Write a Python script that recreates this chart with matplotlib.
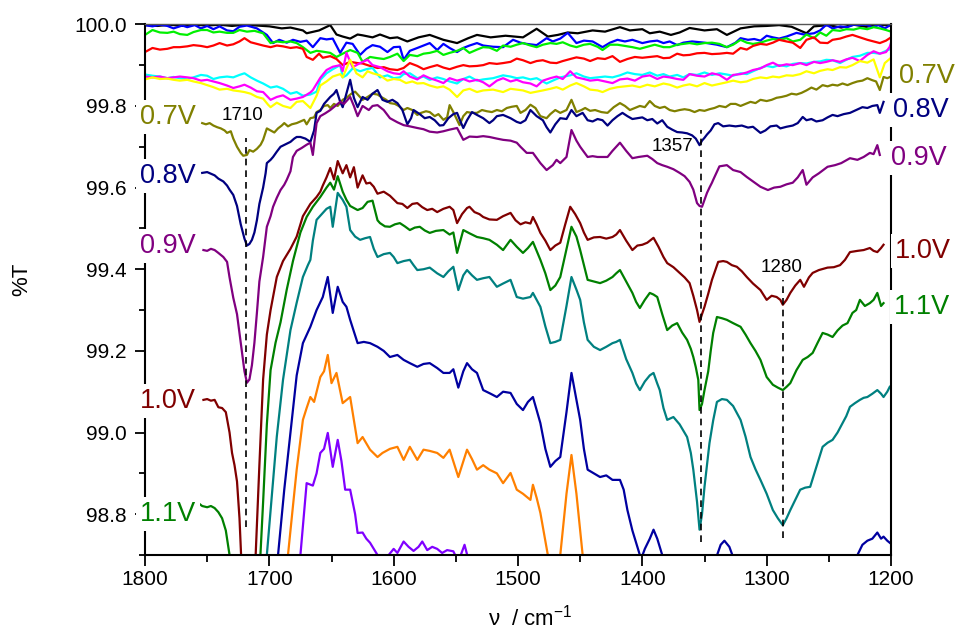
import matplotlib
matplotlib.use("Agg")
import matplotlib.pyplot as plt
from matplotlib.ticker import MultipleLocator, FormatStrFormatter

plt.rcParams['font.family'] = ['Liberation Sans', 'DejaVu Sans']
plt.rcParams['mathtext.default'] = 'regular'

# ---- spectra: (wavenumber / cm-1, %T) ----
trace_black = [(1800, 99.998), (1790, 99.996), (1780, 99.999), (1770, 99.996), (1760, 99.999), (1750, 99.997),
               (1740, 99.999), (1730, 99.996), (1720, 99.999), (1710, 99.997), (1700, 99.995), (1690, 99.99),
               (1683, 99.992), (1673, 99.985), (1670, 99.978), (1660, 99.985), (1651, 99.998), (1646, 99.975),
               (1641, 99.97), (1635, 99.965), (1629, 99.975), (1625, 99.973), (1617, 99.968), (1611, 99.975),
               (1603, 99.966), (1597, 99.968), (1589, 99.958), (1580, 99.968), (1571, 99.974), (1560, 99.962),
               (1549, 99.954), (1540, 99.966), (1533, 99.974), (1522, 99.968), (1510, 99.972), (1496, 99.968),
               (1485, 99.989), (1476, 99.97), (1468, 99.974), (1460, 99.98), (1452, 99.978), (1440, 99.985),
               (1430, 99.982), (1418, 99.993), (1410, 99.985), (1400, 99.988), (1394, 99.978), (1386, 99.982),
               (1377, 99.974), (1370, 99.98), (1362, 99.991), (1350, 99.985), (1340, 99.988), (1332, 99.974),
               (1321, 99.99), (1310, 99.995), (1300, 99.996), (1290, 99.998), (1280, 99.994), (1268, 99.978),
               (1262, 99.995), (1250, 99.998), (1240, 99.992), (1230, 99.999), (1220, 99.994), (1210, 99.999),
               (1200, 99.997)]

trace_blue = [(1800, 99.998), (1794, 99.995), (1788, 99.999), (1782, 99.996), (1777, 99.990), (1770, 99.997),
              (1766, 99.993), (1760, 99.998), (1755, 99.99), (1750, 99.996), (1745, 99.988), (1740, 99.995),
              (1734, 99.985), (1729, 99.983), (1724, 99.994), (1718, 99.997), (1710, 99.99), (1702, 99.974),
              (1697, 99.954), (1692, 99.962), (1686, 99.955), (1681, 99.962), (1675, 99.957), (1670, 99.96),
              (1665, 99.944), (1659, 99.966), (1654, 99.963), (1649, 99.965), (1643, 99.93), (1638, 99.955),
              (1633, 99.952), (1627, 99.925), (1622, 99.94), (1617, 99.949), (1611, 99.945), (1605, 99.932),
              (1600, 99.944), (1595, 99.945), (1592, 99.913), (1587, 99.935), (1581, 99.942), (1576, 99.948),
              (1571, 99.954), (1565, 99.937), (1560, 99.952), (1555, 99.942), (1549, 99.932), (1544, 99.942),
              (1539, 99.948), (1533, 99.954), (1528, 99.948), (1520, 99.945), (1512, 99.944), (1504, 99.962),
              (1498, 99.955), (1493, 99.952), (1485, 99.949), (1477, 99.966), (1472, 99.958), (1466, 99.965),
              (1460, 99.979), (1453, 99.954), (1447, 99.96), (1440, 99.958), (1432, 99.944), (1426, 99.955),
              (1420, 99.962), (1414, 99.958), (1408, 99.962), (1400, 99.954), (1394, 99.958), (1388, 99.96),
              (1383, 99.954), (1378, 99.958), (1372, 99.949), (1367, 99.955), (1360, 99.958), (1350, 99.955),
              (1340, 99.95), (1332, 99.944), (1325, 99.955), (1321, 99.966), (1315, 99.962), (1310, 99.964),
              (1305, 99.96), (1300, 99.972), (1295, 99.968), (1290, 99.965), (1284, 99.97), (1276, 99.979),
              (1270, 99.975), (1262, 99.978), (1257, 99.985), (1252, 99.999), (1247, 99.99), (1241, 99.995),
              (1235, 99.993), (1230, 99.999), (1225, 99.998), (1220, 99.999), (1215, 99.993), (1210, 99.998),
              (1205, 99.99), (1200, 99.999)]

trace_lime = [(1800, 99.974), (1794, 99.986), (1788, 99.98), (1782, 99.979), (1777, 99.982), (1772, 99.976),
              (1766, 99.974), (1761, 99.981), (1755, 99.986), (1750, 99.986), (1745, 99.98), (1740, 99.982),
              (1734, 99.979), (1729, 99.979), (1724, 99.986), (1718, 99.982), (1712, 99.984), (1705, 99.978),
              (1699, 99.954), (1694, 99.958), (1689, 99.956), (1683, 99.958), (1678, 99.954), (1673, 99.944),
              (1667, 99.93), (1662, 99.935), (1657, 99.933), (1651, 99.93), (1646, 99.92), (1641, 99.928),
              (1635, 99.937), (1629, 99.93), (1625, 99.908), (1619, 99.92), (1613, 99.917), (1608, 99.915),
              (1603, 99.92), (1597, 99.928), (1592, 99.91), (1587, 99.925), (1581, 99.922), (1576, 99.928),
              (1571, 99.93), (1565, 99.935), (1560, 99.925), (1555, 99.93), (1549, 99.935), (1544, 99.942),
              (1539, 99.93), (1533, 99.938), (1528, 99.944), (1523, 99.943), (1517, 99.935), (1512, 99.948),
              (1506, 99.945), (1501, 99.95), (1496, 99.954), (1490, 99.948), (1485, 99.944), (1480, 99.95),
              (1474, 99.954), (1469, 99.952), (1464, 99.956), (1458, 99.948), (1453, 99.944), (1447, 99.95),
              (1442, 99.952), (1436, 99.945), (1432, 99.937), (1426, 99.95), (1420, 99.95), (1414, 99.947),
              (1408, 99.944), (1402, 99.94), (1396, 99.945), (1390, 99.95), (1383, 99.944), (1378, 99.944),
              (1372, 99.95), (1367, 99.952), (1362, 99.954), (1356, 99.951), (1350, 99.954), (1344, 99.955),
              (1338, 99.952), (1332, 99.944), (1327, 99.95), (1321, 99.962), (1316, 99.955), (1311, 99.952),
              (1305, 99.955), (1300, 99.96), (1295, 99.964), (1290, 99.962), (1284, 99.966), (1279, 99.958),
              (1273, 99.962), (1268, 99.975), (1262, 99.966), (1257, 99.98), (1252, 99.972), (1247, 99.986),
              (1241, 99.984), (1236, 99.988), (1230, 99.987), (1225, 99.991), (1219, 99.988), (1214, 99.993),
              (1209, 99.99), (1204, 99.986), (1200, 99.982)]

trace_red = [(1800, 99.932), (1794, 99.942), (1788, 99.938), (1782, 99.94), (1777, 99.944), (1772, 99.944),
             (1766, 99.946), (1761, 99.949), (1755, 99.947), (1750, 99.944), (1745, 99.948), (1740, 99.954),
             (1734, 99.948), (1729, 99.951), (1724, 99.958), (1720, 99.966), (1715, 99.956), (1710, 99.952),
             (1705, 99.948), (1699, 99.944), (1694, 99.948), (1689, 99.946), (1683, 99.942), (1678, 99.944),
             (1673, 99.94), (1670, 99.92), (1665, 99.913), (1660, 99.928), (1657, 99.918), (1651, 99.922),
             (1646, 99.915), (1641, 99.9), (1635, 99.908), (1629, 99.905), (1625, 99.904), (1619, 99.898),
             (1613, 99.893), (1608, 99.895), (1603, 99.89), (1597, 99.888), (1592, 99.893), (1587, 99.905),
             (1581, 99.898), (1576, 99.89), (1571, 99.895), (1565, 99.9), (1560, 99.894), (1555, 99.89),
             (1549, 99.896), (1544, 99.9), (1539, 99.897), (1533, 99.898), (1528, 99.9), (1523, 99.905),
             (1517, 99.903), (1512, 99.905), (1506, 99.908), (1501, 99.916), (1496, 99.912), (1490, 99.905),
             (1485, 99.91), (1480, 99.912), (1474, 99.906), (1469, 99.905), (1464, 99.91), (1458, 99.915),
             (1453, 99.919), (1447, 99.916), (1442, 99.91), (1436, 99.917), (1430, 99.915), (1424, 99.922),
             (1418, 99.908), (1412, 99.915), (1406, 99.92), (1400, 99.918), (1394, 99.92), (1388, 99.922),
             (1383, 99.917), (1378, 99.918), (1372, 99.928), (1367, 99.924), (1362, 99.925), (1356, 99.929),
             (1350, 99.93), (1344, 99.927), (1338, 99.928), (1332, 99.93), (1327, 99.928), (1321, 99.942),
             (1316, 99.938), (1311, 99.947), (1305, 99.952), (1300, 99.95), (1295, 99.955), (1290, 99.962),
             (1284, 99.958), (1279, 99.955), (1273, 99.942), (1268, 99.962), (1262, 99.968), (1257, 99.955),
             (1251, 99.954), (1247, 99.962), (1241, 99.965), (1236, 99.97), (1231, 99.974), (1225, 99.968),
             (1219, 99.962), (1214, 99.958), (1209, 99.954), (1204, 99.96), (1200, 99.968)]

trace_cyan = [(1800, 99.877), (1794, 99.874), (1788, 99.872), (1782, 99.868), (1777, 99.871), (1772, 99.868),
              (1766, 99.866), (1761, 99.87), (1755, 99.876), (1750, 99.874), (1745, 99.866), (1740, 99.87),
              (1734, 99.872), (1729, 99.87), (1724, 99.876), (1720, 99.88), (1715, 99.87), (1710, 99.862),
              (1705, 99.855), (1699, 99.845), (1694, 99.848), (1689, 99.842), (1683, 99.83), (1678, 99.834),
              (1673, 99.825), (1667, 99.828), (1662, 99.835), (1659, 99.864), (1654, 99.88), (1649, 99.89),
              (1643, 99.9), (1641, 99.87), (1638, 99.875), (1633, 99.892), (1627, 99.885), (1622, 99.89),
              (1617, 99.893), (1611, 99.87), (1605, 99.875), (1600, 99.868), (1595, 99.87), (1592, 99.878),
              (1587, 99.88), (1581, 99.868), (1576, 99.872), (1571, 99.864), (1565, 99.87), (1560, 99.866),
              (1555, 99.86), (1549, 99.855), (1544, 99.866), (1539, 99.872), (1533, 99.862), (1528, 99.865),
              (1520, 99.868), (1512, 99.875), (1506, 99.872), (1501, 99.868), (1496, 99.87), (1490, 99.865),
              (1485, 99.868), (1477, 99.855), (1472, 99.862), (1466, 99.87), (1458, 99.875), (1453, 99.88),
              (1447, 99.872), (1442, 99.868), (1436, 99.87), (1430, 99.872), (1424, 99.87), (1418, 99.875),
              (1412, 99.882), (1406, 99.878), (1400, 99.876), (1394, 99.882), (1388, 99.874), (1383, 99.878),
              (1378, 99.872), (1372, 99.876), (1367, 99.87), (1362, 99.878), (1356, 99.876), (1350, 99.882),
              (1344, 99.876), (1338, 99.88), (1332, 99.877), (1327, 99.874), (1321, 99.88), (1316, 99.878),
              (1311, 99.885), (1305, 99.893), (1300, 99.898), (1295, 99.895), (1290, 99.9), (1284, 99.897),
              (1279, 99.903), (1273, 99.905), (1268, 99.904), (1262, 99.908), (1257, 99.909), (1252, 99.913),
              (1247, 99.912), (1241, 99.905), (1236, 99.913), (1231, 99.92), (1225, 99.923), (1219, 99.93),
              (1214, 99.93), (1209, 99.928), (1204, 99.935), (1200, 99.94)]

trace_magenta = [(1800, 99.872), (1794, 99.87), (1788, 99.872), (1782, 99.868), (1777, 99.87), (1772, 99.872),
                 (1766, 99.87), (1761, 99.868), (1755, 99.862), (1750, 99.864), (1745, 99.86), (1740, 99.856),
                 (1734, 99.85), (1729, 99.844), (1724, 99.848), (1720, 99.852), (1715, 99.845), (1710, 99.836),
                 (1705, 99.834), (1699, 99.815), (1694, 99.822), (1689, 99.826), (1683, 99.815), (1678, 99.818),
                 (1673, 99.822), (1667, 99.833), (1665, 99.839), (1659, 99.869), (1654, 99.888), (1649, 99.896),
                 (1643, 99.9), (1641, 99.885), (1638, 99.93), (1633, 99.895), (1627, 99.905), (1621, 99.913),
                 (1617, 99.9), (1611, 99.895), (1605, 99.885), (1600, 99.88), (1595, 99.878), (1592, 99.885),
                 (1587, 99.872), (1581, 99.865), (1576, 99.875), (1571, 99.868), (1565, 99.862), (1560, 99.856),
                 (1555, 99.868), (1549, 99.862), (1544, 99.866), (1539, 99.86), (1533, 99.864), (1528, 99.858),
                 (1523, 99.848), (1517, 99.862), (1512, 99.868), (1506, 99.86), (1501, 99.864), (1496, 99.858),
                 (1490, 99.855), (1485, 99.848), (1480, 99.862), (1474, 99.868), (1469, 99.872), (1464, 99.866),
                 (1458, 99.885), (1453, 99.87), (1447, 99.866), (1442, 99.862), (1436, 99.864), (1430, 99.86),
                 (1424, 99.856), (1418, 99.865), (1412, 99.867), (1406, 99.862), (1400, 99.872), (1394, 99.875),
                 (1388, 99.866), (1383, 99.872), (1378, 99.87), (1372, 99.866), (1367, 99.864), (1362, 99.878),
                 (1356, 99.874), (1350, 99.872), (1344, 99.88), (1338, 99.876), (1332, 99.864), (1327, 99.876),
                 (1321, 99.878), (1316, 99.882), (1311, 99.888), (1305, 99.892), (1300, 99.9), (1295, 99.906),
                 (1290, 99.898), (1284, 99.902), (1279, 99.9), (1273, 99.905), (1268, 99.9), (1262, 99.908),
                 (1257, 99.905), (1252, 99.908), (1247, 99.912), (1241, 99.908), (1236, 99.914), (1231, 99.918),
                 (1225, 99.91), (1219, 99.925), (1214, 99.934), (1209, 99.928), (1204, 99.932), (1201, 99.945),
                 (1200, 99.955)]

trace_yellow = [(1800, 99.865), (1794, 99.87), (1788, 99.866), (1782, 99.867), (1777, 99.864), (1772, 99.862),
                (1766, 99.864), (1761, 99.86), (1755, 99.856), (1750, 99.851), (1745, 99.846), (1740, 99.84),
                (1734, 99.842), (1729, 99.838), (1724, 99.836), (1720, 99.834), (1715, 99.83), (1710, 99.822),
                (1705, 99.818), (1701, 99.803), (1699, 99.797), (1694, 99.808), (1689, 99.8), (1683, 99.795),
                (1678, 99.81), (1673, 99.812), (1667, 99.795), (1662, 99.825), (1659, 99.85), (1654, 99.86),
                (1649, 99.872), (1643, 99.878), (1641, 99.87), (1635, 99.913), (1630, 99.88), (1625, 99.87),
                (1621, 99.885), (1617, 99.88), (1611, 99.875), (1605, 99.862), (1600, 99.866), (1595, 99.864),
                (1590, 99.856), (1585, 99.86), (1581, 99.855), (1576, 99.856), (1571, 99.85), (1565, 99.845),
                (1560, 99.848), (1555, 99.84), (1549, 99.822), (1544, 99.838), (1539, 99.842), (1533, 99.834),
                (1528, 99.838), (1520, 99.84), (1512, 99.834), (1506, 99.842), (1501, 99.84), (1496, 99.838),
                (1490, 99.832), (1485, 99.835), (1480, 99.838), (1474, 99.842), (1469, 99.846), (1464, 99.84),
                (1458, 99.85), (1453, 99.856), (1447, 99.848), (1442, 99.84), (1436, 99.838), (1432, 99.834),
                (1426, 99.842), (1420, 99.846), (1414, 99.848), (1408, 99.85), (1402, 99.846), (1396, 99.852),
                (1390, 99.848), (1383, 99.855), (1378, 99.852), (1372, 99.845), (1367, 99.85), (1362, 99.853),
                (1356, 99.848), (1350, 99.856), (1344, 99.85), (1338, 99.854), (1332, 99.858), (1327, 99.862),
                (1321, 99.858), (1316, 99.86), (1311, 99.866), (1305, 99.87), (1300, 99.868), (1295, 99.872),
                (1290, 99.87), (1284, 99.875), (1279, 99.874), (1273, 99.878), (1268, 99.885), (1262, 99.88),
                (1257, 99.886), (1251, 99.89), (1247, 99.888), (1241, 99.895), (1236, 99.894), (1231, 99.9),
                (1225, 99.91), (1219, 99.906), (1214, 99.914), (1209, 99.87), (1205, 99.905), (1200, 99.918)]

trace_07V = [(1754, 99.758), (1751, 99.755), (1748, 99.758), (1745, 99.752), (1742, 99.748), (1739, 99.745),
             (1736, 99.74), (1734, 99.734), (1731, 99.738), (1729, 99.72), (1726, 99.7), (1723, 99.685),
             (1721, 99.678), (1718, 99.68), (1716, 99.692), (1713, 99.688), (1710, 99.695), (1707, 99.705),
             (1705, 99.717), (1702, 99.745), (1699, 99.74), (1696, 99.735), (1693, 99.745), (1690, 99.752),
             (1688, 99.758), (1685, 99.75), (1682, 99.755), (1678, 99.758), (1675, 99.762), (1672, 99.766),
             (1670, 99.755), (1667, 99.77), (1664, 99.772), (1662, 99.785), (1659, 99.79), (1656, 99.8),
             (1653, 99.802), (1651, 99.795), (1648, 99.805), (1645, 99.8), (1641, 99.815), (1638, 99.82),
             (1634, 99.83), (1631, 99.835), (1628, 99.825), (1625, 99.815), (1621, 99.822), (1617, 99.83),
             (1613, 99.828), (1610, 99.822), (1606, 99.815), (1603, 99.807), (1599, 99.805), (1596, 99.8),
             (1592, 99.79), (1589, 99.795), (1585, 99.79), (1581, 99.778), (1578, 99.783), (1574, 99.787),
             (1571, 99.785), (1567, 99.775), (1564, 99.78), (1560, 99.766), (1557, 99.772), (1555, 99.802),
             (1552, 99.785), (1547, 99.753), (1544, 99.775), (1541, 99.785), (1537, 99.783), (1533, 99.783),
             (1529, 99.79), (1525, 99.787), (1521, 99.785), (1517, 99.79), (1513, 99.787), (1509, 99.795),
             (1505, 99.798), (1501, 99.8), (1498, 99.783), (1494, 99.79), (1490, 99.803), (1486, 99.795),
             (1482, 99.775), (1477, 99.77), (1474, 99.78), (1470, 99.79), (1466, 99.783), (1461, 99.79),
             (1457, 99.815), (1453, 99.785), (1449, 99.79), (1446, 99.795), (1442, 99.788), (1438, 99.79),
             (1433, 99.785), (1428, 99.783), (1423, 99.797), (1418, 99.807), (1414, 99.8), (1410, 99.79),
             (1406, 99.795), (1402, 99.8), (1398, 99.797), (1394, 99.812), (1390, 99.8), (1386, 99.795),
             (1382, 99.798), (1378, 99.79), (1374, 99.787), (1370, 99.79), (1366, 99.792), (1362, 99.79),
             (1358, 99.785), (1354, 99.79), (1350, 99.788), (1346, 99.792), (1342, 99.795), (1338, 99.8),
             (1333, 99.797), (1329, 99.805), (1325, 99.805), (1321, 99.8), (1317, 99.805), (1313, 99.81),
             (1309, 99.807), (1305, 99.815), (1300, 99.812), (1296, 99.815), (1292, 99.82), (1288, 99.822),
             (1284, 99.825), (1280, 99.83), (1276, 99.828), (1272, 99.832), (1268, 99.838), (1264, 99.845),
             (1260, 99.84), (1255, 99.851), (1251, 99.848), (1247, 99.852), (1243, 99.85), (1239, 99.855),
             (1235, 99.851), (1231, 99.856), (1227, 99.86), (1223, 99.862), (1219, 99.868), (1215, 99.863),
             (1212, 99.86), (1209, 99.839), (1206, 99.871), (1203, 99.868), (1200, 99.872)]

trace_08V = [(1754, 99.636), (1750, 99.638), (1747, 99.634), (1744, 99.63), (1741, 99.622), (1737, 99.615),
             (1734, 99.605), (1732, 99.595), (1729, 99.582), (1726, 99.555), (1723, 99.51), (1720, 99.475),
             (1718, 99.458), (1716, 99.462), (1714, 99.472), (1712, 99.49), (1710, 99.52), (1708, 99.56),
             (1705, 99.6), (1703, 99.635), (1702, 99.66), (1699, 99.668), (1697, 99.675), (1694, 99.688),
             (1691, 99.7), (1687, 99.706), (1683, 99.712), (1680, 99.72), (1678, 99.724), (1675, 99.724),
             (1671, 99.72), (1667, 99.712), (1664, 99.74), (1662, 99.783), (1659, 99.788), (1656, 99.805),
             (1651, 99.822), (1648, 99.83), (1646, 99.839), (1643, 99.81), (1641, 99.797), (1638, 99.83),
             (1635, 99.864), (1632, 99.82), (1629, 99.797), (1627, 99.81), (1625, 99.822), (1621, 99.815),
             (1617, 99.83), (1613, 99.839), (1609, 99.815), (1605, 99.81), (1601, 99.815), (1597, 99.807),
             (1593, 99.79), (1589, 99.755), (1586, 99.77), (1584, 99.79), (1579, 99.78), (1575, 99.77),
             (1571, 99.773), (1567, 99.765), (1563, 99.752), (1560, 99.753), (1556, 99.77), (1552, 99.78),
             (1549, 99.783), (1546, 99.76), (1544, 99.746), (1541, 99.765), (1537, 99.785), (1533, 99.778),
             (1528, 99.77), (1523, 99.758), (1520, 99.765), (1517, 99.775), (1512, 99.778), (1506, 99.77),
             (1501, 99.761), (1498, 99.758), (1494, 99.765), (1490, 99.79), (1485, 99.775), (1480, 99.765),
             (1477, 99.748), (1474, 99.735), (1470, 99.755), (1466, 99.77), (1461, 99.768), (1457, 99.79),
             (1453, 99.775), (1448, 99.783), (1444, 99.765), (1440, 99.762), (1436, 99.768), (1432, 99.765),
             (1428, 99.752), (1424, 99.765), (1420, 99.775), (1416, 99.783), (1412, 99.775), (1408, 99.768),
             (1404, 99.77), (1400, 99.772), (1396, 99.765), (1392, 99.768), (1388, 99.757), (1384, 99.765),
             (1380, 99.749), (1376, 99.742), (1372, 99.736), (1368, 99.735), (1364, 99.733), (1360, 99.728),
             (1357, 99.72), (1354, 99.704), (1352, 99.715), (1350, 99.722), (1348, 99.73), (1345, 99.74),
             (1342, 99.755), (1339, 99.758), (1335, 99.75), (1330, 99.752), (1325, 99.75), (1320, 99.752),
             (1315, 99.747), (1311, 99.749), (1305, 99.734), (1301, 99.74), (1297, 99.75), (1292, 99.752),
             (1289, 99.745), (1284, 99.749), (1279, 99.752), (1275, 99.758), (1271, 99.773), (1268, 99.765),
             (1264, 99.768), (1260, 99.762), (1255, 99.765), (1251, 99.772), (1247, 99.778), (1243, 99.775),
             (1238, 99.78), (1233, 99.783), (1228, 99.79), (1223, 99.797), (1219, 99.795), (1215, 99.8),
             (1211, 99.802), (1209, 99.783), (1206, 99.81)]

trace_09V = [(1753, 99.447), (1750, 99.445), (1747, 99.45), (1744, 99.447), (1741, 99.44), (1737, 99.43),
             (1734, 99.418), (1732, 99.38), (1729, 99.33), (1726, 99.29), (1723, 99.22), (1720, 99.15),
             (1718, 99.122), (1716, 99.13), (1714, 99.165), (1712, 99.22), (1710, 99.293), (1708, 99.37),
             (1705, 99.43), (1702, 99.504), (1699, 99.53), (1697, 99.553), (1694, 99.575), (1691, 99.594),
             (1688, 99.607), (1686, 99.619), (1683, 99.64), (1681, 99.675), (1678, 99.69), (1674, 99.697),
             (1670, 99.705), (1667, 99.71), (1665, 99.68), (1662, 99.758), (1659, 99.775), (1655, 99.782),
             (1651, 99.79), (1647, 99.8), (1643, 99.81), (1640, 99.805), (1637, 99.815), (1635, 99.822),
             (1632, 99.8), (1629, 99.775), (1625, 99.8), (1620, 99.79), (1617, 99.8), (1613, 99.802),
             (1608, 99.79), (1603, 99.77), (1600, 99.765), (1597, 99.76), (1592, 99.753), (1587, 99.75),
             (1581, 99.746), (1576, 99.743), (1571, 99.737), (1565, 99.735), (1560, 99.738), (1555, 99.742),
             (1549, 99.746), (1544, 99.717), (1539, 99.725), (1533, 99.724), (1528, 99.726), (1523, 99.724),
             (1517, 99.72), (1512, 99.717), (1506, 99.715), (1501, 99.71), (1498, 99.7), (1493, 99.685),
             (1488, 99.685), (1482, 99.66), (1477, 99.643), (1472, 99.655), (1469, 99.668), (1466, 99.66),
             (1461, 99.675), (1457, 99.741), (1453, 99.715), (1450, 99.7), (1444, 99.675), (1440, 99.677),
             (1436, 99.675), (1428, 99.675), (1424, 99.69), (1418, 99.71), (1413, 99.69), (1408, 99.672),
             (1403, 99.675), (1396, 99.678), (1392, 99.67), (1388, 99.66), (1384, 99.655), (1380, 99.651),
             (1375, 99.645), (1370, 99.636), (1366, 99.628), (1362, 99.614), (1359, 99.595), (1356, 99.562),
             (1354, 99.555), (1352, 99.553), (1350, 99.57), (1348, 99.587), (1346, 99.6), (1344, 99.612),
             (1343, 99.619), (1338, 99.652), (1332, 99.655), (1327, 99.643), (1321, 99.638), (1316, 99.626),
             (1311, 99.615), (1305, 99.602), (1299, 99.594), (1294, 99.6), (1289, 99.602), (1284, 99.608),
             (1279, 99.612), (1275, 99.625), (1271, 99.643), (1268, 99.607), (1263, 99.625), (1258, 99.635),
             (1251, 99.651), (1245, 99.655), (1240, 99.66), (1233, 99.672), (1227, 99.668), (1222, 99.675),
             (1217, 99.685), (1214, 99.682), (1211, 99.704), (1209, 99.68)]

trace_10V = [(1753, 99.08), (1750, 99.082), (1747, 99.078), (1744, 99.08), (1741, 99.062), (1738, 99.06),
             (1735, 99.05), (1732, 99.0), (1730, 98.95), (1728, 98.92), (1726, 98.88), (1724, 98.79),
             (1722, 98.65), (1718, 98.45), (1714, 98.5), (1711, 98.7), (1708, 98.92), (1705, 99.13),
             (1702, 99.24), (1699, 99.3), (1694, 99.381), (1689, 99.42), (1686, 99.435), (1683, 99.45),
             (1678, 99.48), (1673, 99.53), (1670, 99.545), (1667, 99.56), (1662, 99.577), (1659, 99.59),
             (1657, 99.605), (1654, 99.625), (1651, 99.648), (1648, 99.62), (1645, 99.665), (1641, 99.635),
             (1638, 99.655), (1635, 99.625), (1632, 99.65), (1629, 99.6), (1625, 99.63), (1622, 99.61),
             (1619, 99.612), (1616, 99.602), (1613, 99.585), (1608, 99.59), (1603, 99.58), (1597, 99.562),
             (1593, 99.56), (1589, 99.55), (1585, 99.56), (1581, 99.562), (1577, 99.552), (1573, 99.545),
             (1569, 99.548), (1565, 99.54), (1560, 99.548), (1555, 99.553), (1552, 99.545), (1549, 99.513),
             (1545, 99.535), (1541, 99.55), (1539, 99.553), (1535, 99.54), (1531, 99.535), (1528, 99.528),
             (1523, 99.522), (1517, 99.521), (1512, 99.53), (1506, 99.538), (1502, 99.52), (1498, 99.51),
             (1494, 99.515), (1490, 99.512), (1488, 99.528), (1485, 99.51), (1482, 99.489), (1478, 99.47),
             (1474, 99.447), (1470, 99.458), (1466, 99.465), (1462, 99.51), (1458, 99.553), (1454, 99.535),
             (1450, 99.513), (1447, 99.49), (1444, 99.472), (1439, 99.478), (1434, 99.479), (1429, 99.475),
             (1424, 99.479), (1421, 99.485), (1418, 99.496), (1413, 99.47), (1408, 99.447), (1404, 99.458),
             (1400, 99.46), (1396, 99.465), (1391, 99.477), (1387, 99.455), (1383, 99.43), (1380, 99.415),
             (1375, 99.405), (1370, 99.391), (1366, 99.38), (1362, 99.366), (1359, 99.335), (1356, 99.3),
             (1354, 99.271), (1352, 99.29), (1350, 99.308), (1347, 99.34), (1344, 99.374), (1341, 99.4),
             (1339, 99.418), (1335, 99.42), (1332, 99.418), (1328, 99.41), (1324, 99.406), (1320, 99.395),
             (1316, 99.381), (1311, 99.365), (1305, 99.349), (1300, 99.325), (1296, 99.335), (1292, 99.332),
             (1289, 99.325), (1287, 99.313), (1284, 99.325), (1281, 99.342), (1277, 99.36), (1273, 99.374),
             (1270, 99.357), (1266, 99.38), (1263, 99.391), (1258, 99.398), (1251, 99.404), (1246, 99.405),
             (1241, 99.41), (1237, 99.423), (1233, 99.442), (1227, 99.445), (1222, 99.447), (1217, 99.452),
             (1214, 99.445), (1211, 99.442), (1208, 99.452), (1206, 99.46)]

trace_11V = [(1757, 98.827), (1754, 98.82), (1750, 98.817), (1747, 98.82), (1744, 98.815), (1741, 98.805),
             (1738, 98.79), (1735, 98.76), (1732, 98.7), (1728, 98.58), (1724, 98.45), (1720, 98.38),
             (1716, 98.4), (1712, 98.5), (1708, 98.65), (1705, 98.83), (1702, 99.02), (1699, 99.153),
             (1695, 99.22), (1691, 99.27), (1686, 99.35), (1681, 99.42), (1678, 99.455), (1675, 99.49),
             (1670, 99.528), (1665, 99.553), (1659, 99.577), (1654, 99.6), (1651, 99.612), (1648, 99.595),
             (1645, 99.628), (1641, 99.59), (1638, 99.57), (1635, 99.555), (1629, 99.545), (1625, 99.55),
             (1621, 99.565), (1617, 99.568), (1613, 99.52), (1611, 99.513), (1607, 99.505), (1603, 99.504),
             (1599, 99.51), (1595, 99.513), (1591, 99.505), (1587, 99.496), (1583, 99.502), (1579, 99.504),
             (1575, 99.495), (1571, 99.489), (1566, 99.494), (1560, 99.496), (1555, 99.485), (1552, 99.49),
             (1549, 99.44), (1544, 99.496), (1539, 99.488), (1533, 99.479), (1528, 99.476), (1523, 99.472),
             (1517, 99.46), (1512, 99.447), (1506, 99.472), (1501, 99.455), (1496, 99.44), (1492, 99.452),
             (1488, 99.467), (1485, 99.445), (1482, 99.423), (1478, 99.39), (1474, 99.349), (1470, 99.36),
             (1466, 99.381), (1461, 99.45), (1457, 99.504), (1453, 99.48), (1450, 99.447), (1447, 99.41),
             (1444, 99.374), (1439, 99.37), (1434, 99.366), (1429, 99.372), (1424, 99.381), (1421, 99.39),
             (1418, 99.398), (1413, 99.37), (1408, 99.342), (1405, 99.32), (1402, 99.305), (1398, 99.325),
             (1394, 99.342), (1391, 99.338), (1388, 99.332), (1384, 99.29), (1380, 99.251), (1376, 99.262),
             (1372, 99.268), (1368, 99.245), (1364, 99.227), (1361, 99.205), (1359, 99.185), (1357, 99.16),
             (1355, 99.129), (1354, 99.055), (1352, 99.07), (1350, 99.104), (1347, 99.15), (1345, 99.2),
             (1343, 99.244), (1340, 99.283), (1336, 99.28), (1332, 99.276), (1327, 99.268), (1321, 99.259),
             (1317, 99.24), (1313, 99.219), (1309, 99.2), (1305, 99.178), (1300, 99.136), (1295, 99.117),
             (1291, 99.11), (1287, 99.104), (1284, 99.112), (1281, 99.121), (1276, 99.153), (1271, 99.178),
             (1267, 99.185), (1263, 99.195), (1259, 99.22), (1255, 99.244), (1251, 99.24), (1247, 99.234),
             (1243, 99.25), (1239, 99.262), (1235, 99.268), (1231, 99.293), (1228, 99.3), (1225, 99.325),
             (1221, 99.31), (1217, 99.317), (1214, 99.325), (1211, 99.342), (1208, 99.31), (1206, 99.317)]

trace_teal = [(1754, 98.55), (1740, 98.45), (1725, 98.2), (1715, 98.25), (1708, 98.5), (1702, 98.7),
              (1697, 98.88), (1694, 98.99), (1689, 99.129), (1683, 99.251), (1678, 99.318), (1673, 99.381),
              (1669, 99.41), (1667, 99.423), (1665, 99.47), (1662, 99.521), (1657, 99.538), (1654, 99.548),
              (1651, 99.553), (1649, 99.504), (1645, 99.587), (1641, 99.57), (1638, 99.553), (1635, 99.496),
              (1631, 99.48), (1627, 99.472), (1623, 99.476), (1619, 99.479), (1616, 99.45), (1613, 99.43),
              (1608, 99.437), (1603, 99.44), (1600, 99.43), (1597, 99.415), (1592, 99.42), (1587, 99.423),
              (1584, 99.41), (1581, 99.398), (1576, 99.4), (1571, 99.404), (1565, 99.39), (1560, 99.381),
              (1556, 99.395), (1552, 99.406), (1548, 99.349), (1544, 99.385), (1541, 99.398), (1537, 99.385),
              (1533, 99.374), (1528, 99.378), (1523, 99.381), (1517, 99.357), (1512, 99.365), (1506, 99.374),
              (1501, 99.332), (1496, 99.328), (1490, 99.332), (1488, 99.342), (1485, 99.325), (1482, 99.308),
              (1478, 99.26), (1474, 99.219), (1470, 99.222), (1466, 99.227), (1461, 99.31), (1457, 99.381),
              (1453, 99.35), (1450, 99.325), (1447, 99.27), (1444, 99.227), (1439, 99.21), (1434, 99.202),
              (1429, 99.21), (1424, 99.219), (1421, 99.222), (1418, 99.227), (1413, 99.18), (1408, 99.146),
              (1405, 99.12), (1402, 99.104), (1398, 99.125), (1394, 99.14), (1391, 99.146), (1388, 99.12),
              (1386, 99.104), (1383, 99.06), (1380, 99.031), (1375, 99.038), (1370, 99.02), (1364, 98.989),
              (1361, 98.95), (1359, 98.909), (1356, 98.83), (1354, 98.762), (1352, 98.8), (1350, 98.867),
              (1348, 98.92), (1346, 98.974), (1343, 99.03), (1340, 99.075), (1336, 99.082), (1332, 99.08),
              (1327, 99.065), (1321, 99.031), (1317, 98.99), (1313, 98.94), (1309, 98.91), (1305, 98.884),
              (1300, 98.85), (1295, 98.81), (1291, 98.79), (1287, 98.773), (1284, 98.79), (1281, 98.81),
              (1277, 98.835), (1273, 98.86), (1269, 98.865), (1265, 98.867), (1260, 98.916), (1255, 98.965),
              (1251, 98.975), (1247, 98.982), (1243, 99.0), (1239, 99.023), (1236, 99.04), (1233, 99.063),
              (1229, 99.072), (1225, 99.08), (1222, 99.085), (1219, 99.087), (1215, 99.095), (1211, 99.104),
              (1208, 99.095), (1206, 99.087), (1203, 99.1), (1201, 99.112)]

trace_royal = [(1754, 98.3), (1735, 98.05), (1718, 98.0), (1705, 98.3), (1698, 98.55), (1693, 98.7),
               (1688, 98.86), (1683, 99.0), (1678, 99.14), (1673, 99.219), (1667, 99.259), (1662, 99.3),
               (1657, 99.332), (1653, 99.381), (1649, 99.293), (1645, 99.357), (1641, 99.32), (1638, 99.308),
               (1635, 99.276), (1629, 99.219), (1624, 99.222), (1619, 99.219), (1613, 99.21), (1608, 99.2),
               (1603, 99.185), (1597, 99.19), (1592, 99.178), (1587, 99.17), (1581, 99.161), (1576, 99.168),
               (1571, 99.17), (1565, 99.158), (1560, 99.146), (1555, 99.146), (1552, 99.155), (1548, 99.11),
               (1544, 99.15), (1541, 99.17), (1537, 99.155), (1533, 99.146), (1528, 99.104), (1522, 99.095),
               (1517, 99.087), (1512, 99.1), (1506, 99.097), (1501, 99.07), (1496, 99.055), (1492, 99.075),
               (1488, 99.087), (1482, 99.023), (1478, 98.96), (1474, 98.916), (1470, 98.93), (1466, 98.94),
               (1461, 99.05), (1457, 99.146), (1453, 99.08), (1450, 99.031), (1447, 98.96), (1444, 98.909),
               (1439, 98.9), (1434, 98.891), (1429, 98.895), (1424, 98.884), (1418, 98.884), (1415, 98.86),
               (1412, 98.81), (1408, 98.76), (1404, 98.72), (1401, 98.69), (1398, 98.715), (1394, 98.74),
               (1391, 98.762), (1388, 98.74), (1384, 98.7), (1380, 98.66), (1370, 98.55), (1360, 98.45),
               (1353, 98.35), (1346, 98.55), (1341, 98.69), (1337, 98.725), (1334, 98.735), (1330, 98.72),
               (1327, 98.695), (1320, 98.6), (1300, 98.35), (1287, 98.3), (1270, 98.42), (1250, 98.55),
               (1235, 98.64), (1227, 98.7), (1223, 98.725), (1219, 98.735), (1215, 98.74), (1211, 98.755),
               (1208, 98.74), (1206, 98.745), (1203, 98.735), (1201, 98.73)]

trace_orange = [(1754, 98.0), (1720, 97.7), (1700, 98.1), (1690, 98.5), (1685, 98.7), (1681, 98.82),
                (1678, 98.909), (1673, 99.031), (1670, 99.06), (1667, 99.087), (1664, 99.075), (1659, 99.136),
                (1656, 99.15), (1653, 99.19), (1650, 99.121), (1646, 99.146), (1641, 99.072), (1635, 99.087),
                (1629, 98.974), (1625, 98.989), (1619, 98.958), (1613, 98.94), (1609, 98.95), (1603, 98.96),
                (1597, 98.965), (1592, 98.933), (1587, 98.965), (1581, 98.933), (1576, 98.958), (1571, 98.955),
                (1565, 98.95), (1560, 98.938), (1555, 98.958), (1548, 98.891), (1541, 98.958), (1537, 98.935),
                (1533, 98.909), (1528, 98.92), (1523, 98.909), (1517, 98.9), (1512, 98.876), (1506, 98.901),
                (1501, 98.86), (1496, 98.85), (1490, 98.835), (1488, 98.872), (1485, 98.84), (1482, 98.803),
                (1476, 98.7), (1470, 98.55), (1466, 98.7), (1461, 98.85), (1457, 98.945), (1453, 98.85),
                (1448, 98.7), (1440, 98.45), (1420, 98.3), (1400, 98.35), (1354, 97.9), (1300, 98.0),
                (1250, 98.2), (1205, 98.4)]

trace_violet = [(1754, 97.8), (1700, 97.9), (1685, 98.35), (1675, 98.7), (1670, 98.876), (1665, 98.87),
                (1662, 98.9), (1659, 98.95), (1656, 98.96), (1653, 98.999), (1649, 98.916), (1645, 98.982),
                (1642, 98.93), (1639, 98.86), (1635, 98.86), (1631, 98.8), (1629, 98.754), (1625, 98.755),
                (1622, 98.74), (1619, 98.73), (1613, 98.7), (1608, 98.68), (1604, 98.7), (1600, 98.715),
                (1597, 98.705), (1592, 98.733), (1588, 98.72), (1584, 98.71), (1580, 98.72), (1577, 98.733),
                (1573, 98.712), (1569, 98.72), (1565, 98.715), (1561, 98.705), (1557, 98.712), (1552, 98.709),
                (1549, 98.69), (1546, 98.7), (1543, 98.725), (1540, 98.69), (1535, 98.6), (1500, 98.5),
                (1450, 98.4), (1400, 98.2), (1300, 98.1), (1205, 98.3)]

traces = [trace_black, trace_blue, trace_lime, trace_red, trace_cyan, trace_magenta, trace_yellow,
          trace_07V, trace_08V, trace_09V, trace_10V, trace_11V,
          trace_teal, trace_royal, trace_orange, trace_violet]
colors = ['#000000', '#0000FF', '#00F000', '#FF0000', '#00FFFF', '#FF00FF', '#FFFF00',
          '#808000', '#000080', '#800080', '#800000', '#008000',
          '#008080', '#0000A0', '#FF8000', '#8000FF']

# potential labels at both ends of the labelled spectra
potentials = ['0.7V', '0.8V', '0.9V', '1.0V', '1.1V']
potential_colors = ['#808000', '#000080', '#800080', '#800000', '#008000']
left_label_y = [99.772, 99.629, 99.457, 99.078, 98.800]
right_label_y = [99.873, 99.790, 99.672, 99.445, 99.308]
right_label_x = [1193.6, 1198.4, 1200.0, 1196.8, 1197.6]

# band markers
band_labels = ['1710', '1357', '1280']
band_positions = [1719, 1353, 1287]
band_top = [99.722, 99.741, 99.374]
band_bottom = [98.769, 98.733, 98.742]
band_label_xy = [(1721.6, 99.777), (1376.0, 99.700), (1287.7, 99.405)]

fig = plt.figure(figsize=(9.55, 6.36), dpi=100)
ax = fig.add_axes([145 / 955, 1 - 555 / 636, (891 - 145) / 955, (555 - 24.3) / 636])

for trace, color in zip(traces, colors):
    nu, t = zip(*trace)
    ax.plot(nu, t, color=color, lw=1.6)

for pos, top, bottom in zip(band_positions, band_top, band_bottom):
    ax.plot([pos, pos], [bottom, top], color='black', lw=1.2, ls=(0, (4, 3)))
for text, (bx, by) in zip(band_labels, band_label_xy):
    ax.text(bx, by, text, ha='center', va='center', fontsize=13.5, color='black')

box = dict(boxstyle='square,pad=0.15', facecolor='white', edgecolor='none')
for text, color, ly in zip(potentials, potential_colors, left_label_y):
    ax.text(1804, ly, text, ha='left', va='center', fontsize=19.5, color=color,
            bbox=box, clip_on=False, zorder=4)
for text, color, ly, lx in zip(potentials, potential_colors, right_label_y, right_label_x):
    ax.text(lx, ly, text, ha='left', va='center', fontsize=19.5, color=color,
            bbox=box, clip_on=False, zorder=4)

ax.set_xlim(1800, 1200)
ax.set_ylim(98.7, 100.0)
ax.xaxis.set_major_locator(MultipleLocator(100))
ax.xaxis.set_minor_locator(MultipleLocator(50))
ax.yaxis.set_major_locator(MultipleLocator(0.2))
ax.yaxis.set_minor_locator(MultipleLocator(0.1))
ax.yaxis.set_major_formatter(FormatStrFormatter('%.1f'))
ax.xaxis.set_major_formatter(FormatStrFormatter('%d'))

ax.tick_params(which='both', direction='out', width=1.3, labelsize=15,
               top=False, right=False)
ax.tick_params(axis='y', which='major', length=7.5, pad=5.5)
ax.tick_params(axis='y', which='minor', length=4)
ax.tick_params(axis='x', which='major', length=8, pad=2.5)
ax.tick_params(axis='x', which='minor', length=5)

for side in ['left', 'right', 'bottom']:
    ax.spines[side].set_linewidth(1.5)
ax.spines['top'].set_linewidth(1.0)
ax.spines['top'].set_color('#555555')

ax.set_ylabel('%T', fontsize=16)
ax.yaxis.set_label_coords(-0.151, 0.52)
ax.set_xlabel('ν  / cm$^{-1}$', fontsize=16)
ax.xaxis.set_label_coords(0.516, -0.094)

fig.savefig('out.png', dpi=100)
